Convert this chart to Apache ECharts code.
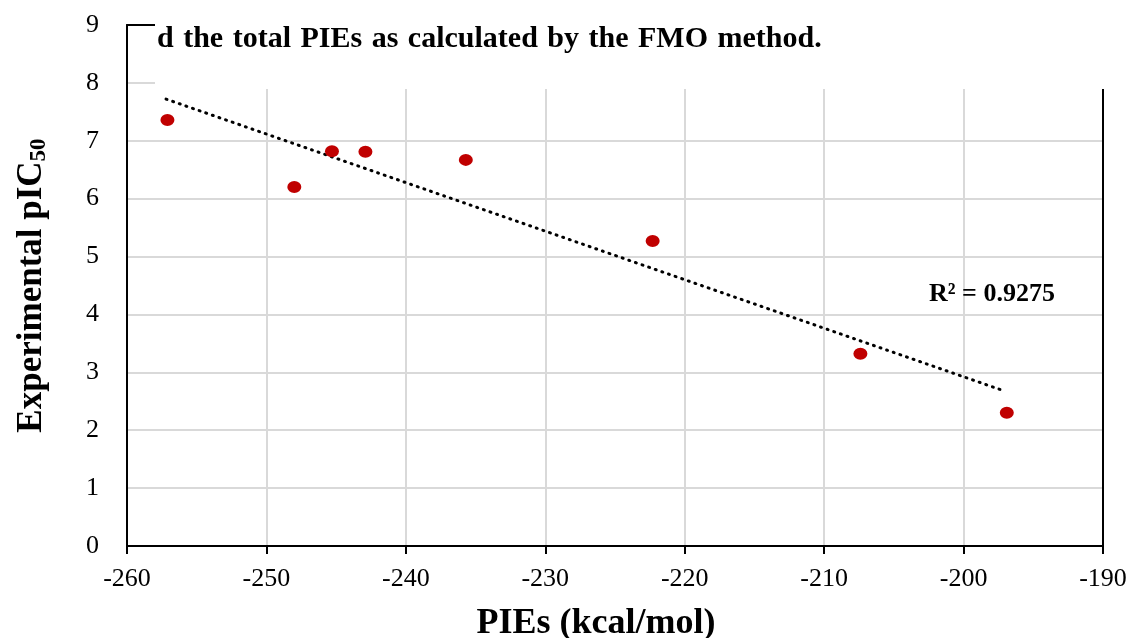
<!DOCTYPE html>
<html>
<head>
<meta charset="utf-8">
<title>PIEs vs pIC50</title>
<script src="https://cdn.jsdelivr.net/npm/echarts@6/dist/echarts.min.js"></script>
<style>
  html, body { margin: 0; padding: 0; background: #fff; }
  #chart { width: 1135px; height: 638px; }
</style>
</head>
<body>
<div id="chart"></div>
<script>
  // values
  const pies = [-257.1, -248.0, -245.3, -242.9, -235.7, -222.3, -207.4, -196.9];
  const pic50 = [7.36, 6.20, 6.82, 6.81, 6.67, 5.27, 3.32, 2.30];
  // trend line ends (linear fit, R² = 0.9275)
  const trendX = [-257.2, -197.1];
  const trendY = [7.72, 2.68];
  const xTicks = { min: -260, max: -190, step: 10 };
  const yTicks = { min: 0, max: 9, step: 1 };
  const captionWords = ['d', 'the', 'total', 'PIEs', 'as', 'calculated', 'by', 'the', 'FMO', 'method.'];

  const serif = '"Liberation Serif", "Times New Roman", serif';
  const chart = echarts.init(document.getElementById('chart'));

  // plain black frame line for the top / right sides
  const frameAxis = {
    type: 'value',
    axisLine: { show: true, onZero: false, lineStyle: { color: '#000', width: 2 } },
    axisTick: { show: false },
    axisLabel: { show: false },
    splitLine: { show: false },
  };

  const option = {
    animation: false,
    grid: {
      left: 127,
      right: 32,
      top: 25,
      bottom: 92,
      outerBoundsMode: 'none',
      containLabel: false,
    },
    xAxis: [
      {
        type: 'value',
        min: xTicks.min,
        max: xTicks.max,
        interval: xTicks.step,
        name: 'PIEs (kcal/mol)',
        nameLocation: 'middle',
        nameGap: 60,
        nameTextStyle: {
          fontFamily: serif,
          fontWeight: 'bold',
          fontSize: 36,
          color: '#000',
          padding: [0, 38, 0, 0],
        },
        axisLine: { onZero: false, lineStyle: { color: '#000', width: 2 } },
        axisTick: { show: true, length: 8, lineStyle: { color: '#000', width: 2 } },
        axisLabel: { fontFamily: serif, fontSize: 26, color: '#000', margin: 20 },
        splitLine: { lineStyle: { color: '#d9d9d9', width: 2 } },
      },
      Object.assign({ position: 'top', min: xTicks.min, max: xTicks.max }, frameAxis),
    ],
    yAxis: [
      {
        type: 'value',
        min: yTicks.min,
        max: yTicks.max,
        interval: yTicks.step,
        name: '{a|Experimental pIC}{b|50}',
        nameLocation: 'middle',
        nameGap: 76,
        nameTextStyle: {
          rich: {
            a: { fontFamily: serif, fontWeight: 'bold', fontSize: 35, color: '#000' },
            b: { fontFamily: serif, fontWeight: 'bold', fontSize: 23, color: '#000', padding: [16, 0, 0, 0] },
          },
        },
        axisLine: { show: true, onZero: false, lineStyle: { color: '#000', width: 2 } },
        axisTick: { show: false },
        axisLabel: { fontFamily: serif, fontSize: 26, color: '#000', margin: 28 },
        splitLine: { lineStyle: { color: '#d9d9d9', width: 2 } },
      },
      Object.assign({ position: 'right', min: yTicks.min, max: yTicks.max }, frameAxis),
    ],
    series: [
      {
        type: 'line',
        data: trendX.map((x, i) => [x, trendY[i]]),
        symbol: 'none',
        lineStyle: { color: '#000', width: 3, type: [1, 6], cap: 'round' },
        z: 2,
      },
      {
        type: 'scatter',
        data: pies.map((x, i) => [x, pic50[i]]),
        symbol: 'circle',
        symbolSize: [14, 12],
        itemStyle: { color: '#C00000', opacity: 1 },
        z: 3,
      },
    ],
    graphic: [
      {
        type: 'rect',
        left: 155,
        top: 0,
        shape: { width: 955, height: 89 },
        style: { fill: '#fff' },
        z: 100,
      },
      {
        type: 'text',
        left: 157,
        top: 24,
        style: {
          // justified caption: each word gets a little extra room
          text: captionWords.map((w) => '{w|' + w + '}').join(''),
          rich: {
            w: { font: 'bold 30px ' + serif, fill: '#000', padding: [0, 9.5, 0, 0] },
          },
        },
        z: 101,
      },
      {
        type: 'text',
        left: 929,
        top: 281,
        style: {
          text: 'R² = 0.9275',
          font: 'bold 26px ' + serif,
          fill: '#000',
        },
        z: 101,
      },
    ],
  };

  chart.setOption(option);
</script>
</body>
</html>
